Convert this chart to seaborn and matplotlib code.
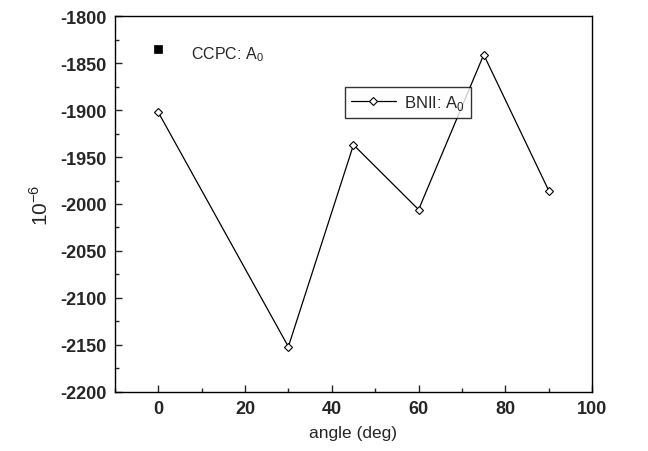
import matplotlib
matplotlib.use("Agg")
import matplotlib.pyplot as plt
from matplotlib.ticker import MultipleLocator
import seaborn as sns
import pandas as pd

sns.set_style("white")
plt.rcParams['font.family'] = ['Liberation Sans', 'DejaVu Sans']
plt.rcParams['mathtext.fontset'] = 'custom'
plt.rcParams['mathtext.rm'] = 'Liberation Sans'
plt.rcParams['axes.unicode_minus'] = False

# data
angles = [0, 30, 45, 60, 75, 90]
bnii_a0 = [-1902, -2152, -1937, -2006, -1841, -1986]
ccpc_angle = [0]
ccpc_a0 = [-1835]

df = pd.DataFrame({'angle': angles, 'A0': bnii_a0})
df_ccpc = pd.DataFrame({'angle': ccpc_angle, 'A0': ccpc_a0})

fig = plt.figure(figsize=(6.48, 4.52), dpi=100)
ax = fig.add_axes([0.177, 0.131, 0.737, 0.831])

sns.lineplot(data=df, x='angle', y='A0', ax=ax, color='black', lw=0.9,
             marker='D', markersize=4, markerfacecolor='white',
             markeredgecolor='black', markeredgewidth=0.8,
             label='BNII: A$_0$')
sns.scatterplot(data=df_ccpc, x='angle', y='A0', ax=ax, marker='s', s=40,
                color='black', edgecolor='black')

ax.text(0.16, 0.9, 'CCPC: A$_0$', transform=ax.transAxes, fontsize=11.5,
        va='center', ha='left')

leg = ax.legend(loc='upper left', bbox_to_anchor=(0.482, 0.811), frameon=True,
                fontsize=12, handlelength=2.7, borderpad=0.35, handletextpad=0.5,
                fancybox=False, edgecolor='black', borderaxespad=0)
leg.get_frame().set_linewidth(1.0)

ax.set_xlim(-10, 100)
ax.set_ylim(-2200, -1800)
ax.xaxis.set_major_locator(MultipleLocator(20))
ax.xaxis.set_minor_locator(MultipleLocator(10))
ax.yaxis.set_major_locator(MultipleLocator(50))
ax.yaxis.set_minor_locator(MultipleLocator(25))
ax.tick_params(which='both', direction='in', bottom=True, left=True,
               top=False, right=False, width=1.0)
ax.tick_params(which='major', length=5, labelsize=13, pad=6)
ax.tick_params(which='minor', length=3)
for lbl in ax.get_xticklabels() + ax.get_yticklabels():
    lbl.set_fontweight('bold')

for sp in ax.spines.values():
    sp.set_color('black')
    sp.set_linewidth(1.0)

ax.set_xlabel('angle (deg)', fontsize=12.5, labelpad=6)
ax.set_ylabel('10$^{-6}$', fontsize=15, labelpad=6)

fig.savefig('out.png', dpi=100)
